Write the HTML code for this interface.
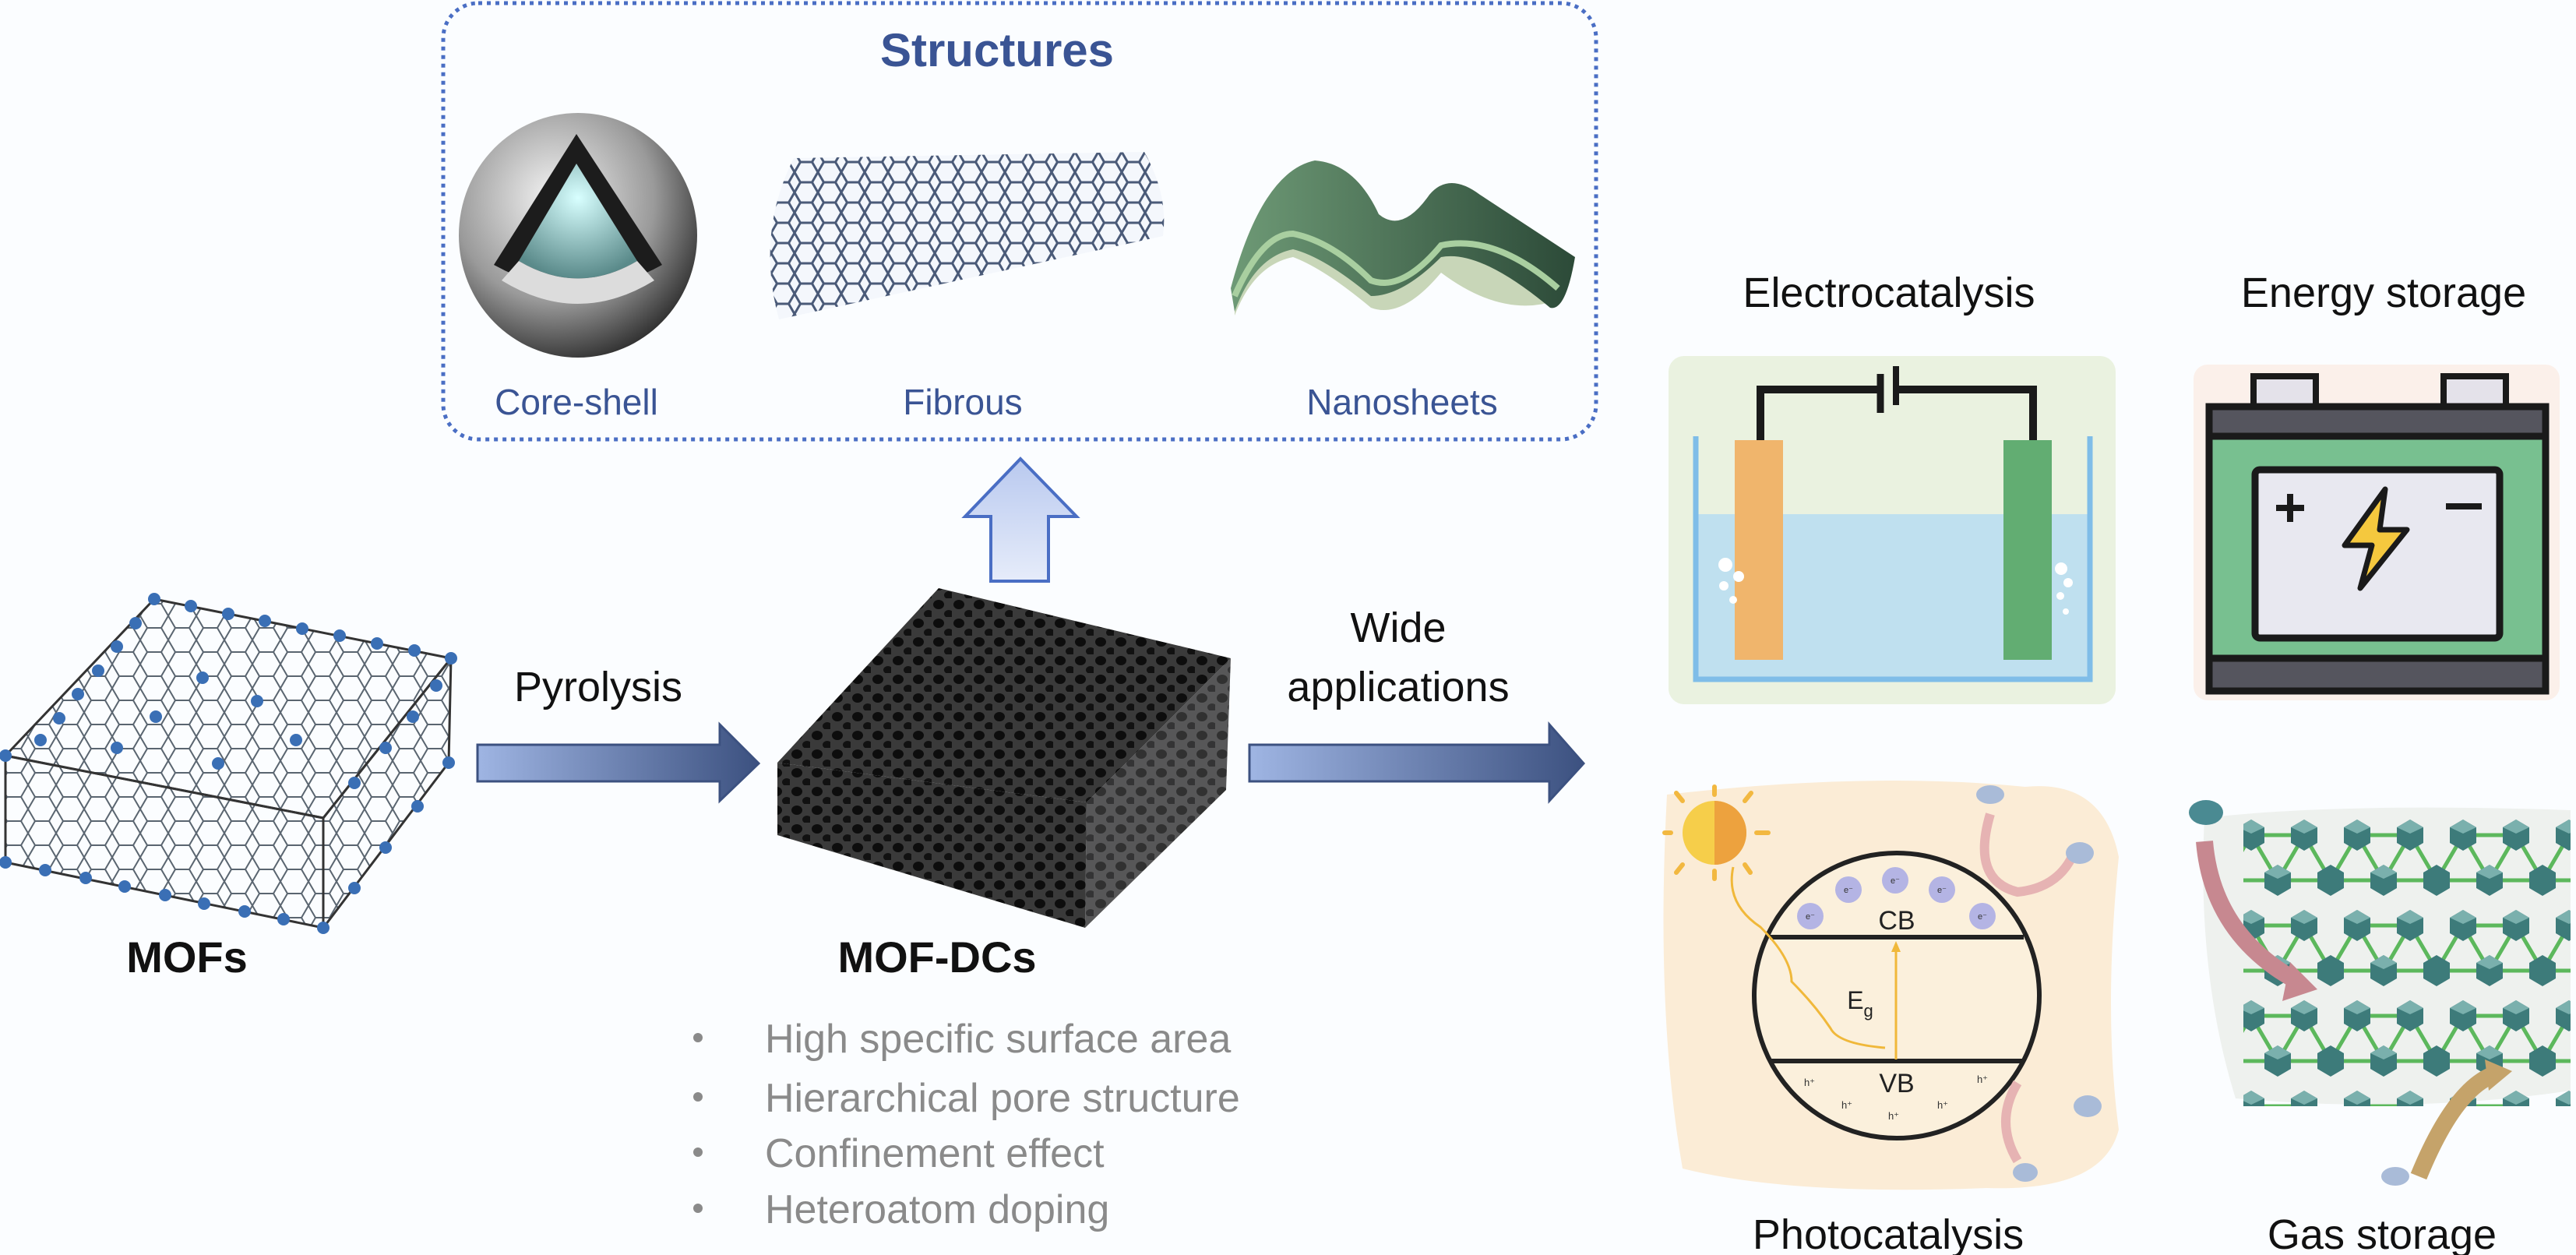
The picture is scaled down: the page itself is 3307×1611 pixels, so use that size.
<!DOCTYPE html>
<html><head><meta charset="utf-8"><style>
html,body{margin:0;padding:0;background:#fbfdff;}
svg{display:block}
text{font-family:"Liberation Sans",Arial,sans-serif}
</style></head><body>
<svg width="3307" height="1611" viewBox="0 0 3307 1611" xmlns="http://www.w3.org/2000/svg">
<defs>
<pattern id="hex" width="36" height="31" patternUnits="userSpaceOnUse">
<path d="M0 15.5 L9 0 L27 0 L36 15.5 L27 31 L9 31 Z" fill="none" stroke="#5a6570" stroke-width="2"/>
</pattern>
<pattern id="pores" width="26" height="24" patternUnits="userSpaceOnUse">
<rect width="26" height="24" fill="#3a3a3a"/>
<ellipse cx="9" cy="8" rx="7" ry="6" fill="#0d0d0d"/>
<ellipse cx="22" cy="20" rx="6" ry="5" fill="#111"/>
</pattern>
<linearGradient id="arr" x1="0" x2="1" y1="0" y2="0">
<stop offset="0" stop-color="#9fb5e3"/><stop offset="1" stop-color="#3c5180"/>
</linearGradient>
<linearGradient id="up" x1="0" x2="0" y1="0" y2="1">
<stop offset="0" stop-color="#b9c9ef"/><stop offset="1" stop-color="#e6ecfa"/>
</linearGradient>
<radialGradient id="shell" cx="0.4" cy="0.35" r="0.7">
<stop offset="0" stop-color="#f4f4f4"/><stop offset="0.6" stop-color="#9a9a9a"/><stop offset="1" stop-color="#2a2a2a"/>
</radialGradient>
<radialGradient id="core" cx="0.5" cy="0.3" r="0.7">
<stop offset="0" stop-color="#d8ffff"/><stop offset="1" stop-color="#5a8a8a"/>
</radialGradient>
<linearGradient id="sheet" x1="0" x2="1">
<stop offset="0" stop-color="#6e9a76"/><stop offset="1" stop-color="#2c4a38"/>
</linearGradient>
<pattern id="tube" width="30" height="26" patternUnits="userSpaceOnUse">
<path d="M0 13 L7.5 0 L22.5 0 L30 13 L22.5 26 L7.5 26 Z" fill="none" stroke="#4a5a78" stroke-width="3"/>
</pattern>
<pattern id="gas" width="136" height="116" patternUnits="userSpaceOnUse">
<path d="M34 28 L102 28 M34 28 L0 86 M102 28 L136 86 M34 28 L68 86 M102 28 L68 86 M0 86 L136 86" stroke="#5cb85c" stroke-width="5"/>
<polygon points="34,8 51,18 51,38 34,48 17,38 17,18" fill="#3d7b7a"/>
<polygon points="34,8 51,18 34,26 17,18" fill="#7ab0ad"/>
<polygon points="102,8 119,18 119,38 102,48 85,38 85,18" fill="#3d7b7a"/>
<polygon points="102,8 119,18 102,26 85,18" fill="#7ab0ad"/>
<polygon points="68,66 85,76 85,96 68,106 51,96 51,76" fill="#3d7b7a"/>
<polygon points="68,66 85,76 68,84 51,76" fill="#7ab0ad"/>
<polygon points="0,66 17,76 17,96 0,106 -17,96 -17,76" fill="#3d7b7a"/>
<polygon points="136,66 153,76 153,96 136,106 119,96 119,76" fill="#3d7b7a"/>
</pattern>
</defs>

<!-- Structures box -->
<rect x="569" y="4" width="1480" height="560" rx="45" fill="none" stroke="#4a6ec4" stroke-width="5" stroke-dasharray="5 6"/>
<text x="1280" y="85" font-size="60" font-weight="bold" fill="#3a5494" text-anchor="middle">Structures</text>
<text x="740" y="532" font-size="46" fill="#3a5494" text-anchor="middle">Core-shell</text>
<text x="1236" y="532" font-size="46" fill="#3a5494" text-anchor="middle">Fibrous</text>
<text x="1800" y="532" font-size="46" fill="#3a5494" text-anchor="middle">Nanosheets</text>

<!-- core shell -->
<ellipse cx="742" cy="302" rx="153" ry="157" fill="url(#shell)"/>
<path d="M740 172 L850 340 Q742 400 634 340 Z" fill="#1c1c1c"/>
<path d="M740 210 L818 335 Q742 380 666 335 Z" fill="url(#core)"/>
<path d="M666 335 Q742 380 818 335 L840 360 Q742 420 644 360 Z" fill="#dcdcdc"/>

<!-- tube -->
<path d="M1019 203 L1469 195 Q1500 250 1493 303 L1000 410 Q970 300 1019 203 Z" fill="#f4f7fc"/>
<path d="M1019 203 L1469 195 Q1500 250 1493 303 L1000 410 Q970 300 1019 203 Z" fill="url(#tube)"/>

<!-- nanosheet -->
<path d="M1585 385 Q1620 300 1660 300 Q1710 310 1760 360 Q1800 390 1850 325 Q1920 310 2000 385 Q1930 410 1850 350 Q1800 410 1760 395 Q1700 345 1660 330 Q1610 340 1585 405 Z" fill="#c8d6b8"/>
<path d="M1580 370 Q1620 220 1688 206 Q1740 210 1770 275 Q1800 300 1835 250 Q1860 220 1900 250 L2022 330 Q2010 400 1990 395 Q1900 320 1850 330 Q1800 380 1760 380 Q1700 330 1660 320 Q1610 330 1585 400 Z" fill="url(#sheet)"/>
<path d="M1585 380 Q1620 300 1660 300 Q1710 310 1760 360 Q1800 375 1850 315 Q1920 300 2000 370" fill="none" stroke="#a9cfa0" stroke-width="8"/>

<!-- up arrow -->
<polygon points="1310,589 1382,663 1346,663 1346,746 1272,746 1272,663 1239,663" fill="url(#up)" stroke="#4a6ec4" stroke-width="4"/>

<!-- MOFs -->
<polygon points="198,769 579,845 415,1050 7,970" fill="url(#hex)" stroke="#333" stroke-width="3"/>
<polygon points="7,970 415,1050 415,1191 7,1107" fill="url(#hex)" stroke="#333" stroke-width="3"/>
<polygon points="415,1050 579,845 576,979 415,1191" fill="url(#hex)" stroke="#333" stroke-width="3"/>
<g fill="#3a6fb5">
<circle cx="198" cy="769" r="8"/><circle cx="245" cy="778" r="8"/><circle cx="293" cy="788" r="8"/><circle cx="340" cy="797" r="8"/><circle cx="388" cy="807" r="8"/><circle cx="436" cy="816" r="8"/><circle cx="484" cy="826" r="8"/><circle cx="532" cy="835" r="8"/><circle cx="579" cy="845" r="8"/>
<circle cx="174" cy="800" r="8"/><circle cx="150" cy="830" r="8"/><circle cx="126" cy="861" r="8"/><circle cx="100" cy="891" r="8"/><circle cx="76" cy="922" r="8"/><circle cx="52" cy="950" r="8"/><circle cx="7" cy="970" r="8"/>
<circle cx="7" cy="1107" r="8"/><circle cx="58" cy="1117" r="8"/><circle cx="110" cy="1127" r="8"/><circle cx="160" cy="1138" r="8"/><circle cx="212" cy="1149" r="8"/><circle cx="262" cy="1160" r="8"/><circle cx="314" cy="1170" r="8"/><circle cx="364" cy="1180" r="8"/><circle cx="415" cy="1191" r="8"/>
<circle cx="455" cy="1140" r="8"/><circle cx="495" cy="1088" r="8"/><circle cx="536" cy="1035" r="8"/><circle cx="576" cy="979" r="8"/>
<circle cx="560" cy="880" r="8"/><circle cx="530" cy="920" r="8"/><circle cx="495" cy="960" r="8"/><circle cx="455" cy="1005" r="8"/>
<circle cx="260" cy="870" r="8"/><circle cx="330" cy="900" r="8"/><circle cx="200" cy="920" r="8"/><circle cx="380" cy="950" r="8"/><circle cx="280" cy="980" r="8"/><circle cx="150" cy="960" r="8"/>
</g>
<text x="240" y="1248" font-size="56" font-weight="bold" fill="#111" text-anchor="middle">MOFs</text>

<!-- Pyrolysis arrow -->
<text x="768" y="900" font-size="54" fill="#111" text-anchor="middle">Pyrolysis</text>
<polygon points="613,956 924,956 924,930 974,980 924,1028 924,1003 613,1003" fill="url(#arr)" stroke="#3c5180" stroke-width="3"/>

<!-- MOF-DC block -->
<polygon points="1205,755 1580,845 1395,1030 998,979" fill="url(#pores)"/>
<polygon points="998,979 1395,1030 1393,1191 998,1072" fill="url(#pores)"/>
<polygon points="1395,1030 1580,845 1574,1014 1393,1191" fill="url(#pores)" opacity="0.85"/>
<text x="1203" y="1248" font-size="56" font-weight="bold" fill="#111" text-anchor="middle">MOF-DCs</text>

<!-- bullets -->
<g fill="#8a8a8a" font-size="52">
<circle cx="896" cy="1332" r="6"/><circle cx="896" cy="1408" r="6"/><circle cx="896" cy="1479" r="6"/><circle cx="896" cy="1551" r="6"/>
<text x="982" y="1351">High specific surface area</text>
<text x="982" y="1427">Hierarchical pore structure</text>
<text x="982" y="1498">Confinement effect</text>
<text x="982" y="1570">Heteroatom doping</text>
</g>

<!-- Wide applications arrow -->
<text x="1795" y="824" font-size="54" fill="#111" text-anchor="middle">Wide</text>
<text x="1795" y="900" font-size="54" fill="#111" text-anchor="middle">applications</text>
<polygon points="1604,956 1989,956 1989,930 2033,980 1989,1028 1989,1003 1604,1003" fill="url(#arr)" stroke="#3c5180" stroke-width="3"/>

<!-- Titles right -->
<g font-size="54" fill="#111" text-anchor="middle">
<text x="2425" y="394">Electrocatalysis</text>
<text x="3060" y="394">Energy storage</text>
<text x="2424" y="1603">Photocatalysis</text>
<text x="3058" y="1603">Gas storage</text>
</g>

<!-- Electrocatalysis -->
<rect x="2142" y="457" width="574" height="447" rx="20" fill="#eaf2e0"/>
<rect x="2175" y="660" width="510" height="210" fill="#bfe0ef"/>
<path d="M2177 560 L2177 872 L2683 872 L2683 560" fill="none" stroke="#7fbde8" stroke-width="7"/>
<path d="M2260 565 L2260 500 L2412 500 M2436 500 L2610 500 L2610 565" fill="none" stroke="#1a1a1a" stroke-width="10"/>
<line x1="2414" y1="480" x2="2414" y2="530" stroke="#1a1a1a" stroke-width="9"/>
<line x1="2434" y1="470" x2="2434" y2="520" stroke="#1a1a1a" stroke-width="8"/>
<rect x="2227" y="565" width="62" height="282" fill="#f0b56c"/>
<rect x="2572" y="565" width="62" height="282" fill="#62ad72"/>
<g fill="#fff"><circle cx="2215" cy="725" r="9"/><circle cx="2232" cy="740" r="7"/><circle cx="2213" cy="752" r="6"/><circle cx="2225" cy="770" r="5"/><circle cx="2646" cy="730" r="8"/><circle cx="2655" cy="748" r="6"/><circle cx="2645" cy="765" r="5"/><circle cx="2652" cy="785" r="4"/></g>

<!-- Battery -->
<rect x="2816" y="468" width="470" height="431" rx="18" fill="#fbf0ea"/>
<rect x="2893" y="483" width="80" height="45" fill="#e4e2ea" stroke="#1a1a1a" stroke-width="8"/>
<rect x="3137" y="483" width="80" height="45" fill="#e4e2ea" stroke="#1a1a1a" stroke-width="8"/>
<rect x="2836" y="522" width="432" height="365" rx="8" fill="#78c090" stroke="#1a1a1a" stroke-width="9"/>
<rect x="2836" y="522" width="432" height="38" fill="#55555e" stroke="#1a1a1a" stroke-width="9"/>
<rect x="2836" y="845" width="432" height="42" fill="#55555e" stroke="#1a1a1a" stroke-width="9"/>
<rect x="2895" y="603" width="314" height="216" rx="6" fill="#e8e8f0" stroke="#1a1a1a" stroke-width="9"/>
<path d="M2922 652 h36 M2940 634 v36" stroke="#1a1a1a" stroke-width="8"/>
<path d="M3140 650 h46" stroke="#1a1a1a" stroke-width="8"/>
<path d="M3062 628 L3010 700 L3045 700 L3030 755 L3090 680 L3055 680 Z" fill="#f5c83e" stroke="#1a1a1a" stroke-width="7" stroke-linejoin="round"/>

<!-- Photocatalysis -->
<path d="M2140 1020 Q2400 990 2600 1010 Q2700 1000 2720 1100 Q2700 1300 2720 1450 Q2700 1530 2550 1525 Q2300 1535 2160 1500 Q2125 1300 2140 1020 Z" fill="#fbecd6"/>
<circle cx="2201" cy="1069" r="41" fill="#f6ce4a"/>
<path d="M2201 1028 A41 41 0 0 1 2201 1110 Z" fill="#eda23e"/>
<g stroke="#f2b840" stroke-width="6" stroke-linecap="round">
<line x1="2201" y1="1010" x2="2201" y2="1020"/><line x1="2201" y1="1118" x2="2201" y2="1128"/><line x1="2255" y1="1069" x2="2270" y2="1069"/><line x1="2137" y1="1069" x2="2145" y2="1069"/><line x1="2240" y1="1110" x2="2247" y2="1120"/><line x1="2160" y1="1110" x2="2152" y2="1120"/><line x1="2240" y1="1028" x2="2248" y2="1018"/><line x1="2160" y1="1028" x2="2152" y2="1018"/>
</g>
<ellipse cx="2435" cy="1278" rx="183" ry="183" fill="#fbf0dc" stroke="#222" stroke-width="6"/>
<line x1="2272" y1="1203" x2="2598" y2="1203" stroke="#222" stroke-width="6"/>
<line x1="2272" y1="1362" x2="2598" y2="1362" stroke="#222" stroke-width="6"/>
<path d="M2225 1113 Q2215 1160 2260 1190 Q2300 1230 2300 1260 Q2330 1290 2350 1320 Q2360 1340 2420 1345" fill="none" stroke="#f0b83a" stroke-width="3"/>
<line x1="2434" y1="1360" x2="2434" y2="1215" stroke="#f0b83a" stroke-width="3"/>
<polygon points="2434,1208 2428,1222 2440,1222" fill="#f0b83a"/>
<g fill="#b4b4e4"><circle cx="2324" cy="1176" r="17"/><circle cx="2373" cy="1142" r="17"/><circle cx="2433" cy="1130" r="17"/><circle cx="2493" cy="1142" r="17"/><circle cx="2545" cy="1176" r="17"/></g>
<g font-size="11" fill="#333" text-anchor="middle"><text x="2324" y="1180">e⁻</text><text x="2373" y="1146">e⁻</text><text x="2433" y="1134">e⁻</text><text x="2493" y="1146">e⁻</text><text x="2545" y="1180">e⁻</text></g>
<text x="2435" y="1193" font-size="34" fill="#222" text-anchor="middle">CB</text>
<text x="2435" y="1402" font-size="34" fill="#222" text-anchor="middle">VB</text>
<text x="2388" y="1295" font-size="32" fill="#222" text-anchor="middle">E<tspan font-size="22" dy="10">g</tspan></text>
<g font-size="13" fill="#333" text-anchor="middle"><text x="2323" y="1394">h⁺</text><text x="2371" y="1423">h⁺</text><text x="2431" y="1437">h⁺</text><text x="2494" y="1423">h⁺</text><text x="2545" y="1390">h⁺</text></g>
<path d="M2555 1045 Q2530 1130 2590 1145 Q2640 1140 2660 1100" fill="none" stroke="#e6b3b3" stroke-width="12"/>
<path d="M2590 1390 Q2560 1440 2590 1490" fill="none" stroke="#e6b3b3" stroke-width="12"/>
<g fill="#a9bbd8"><ellipse cx="2555" cy="1020" rx="18" ry="12"/><ellipse cx="2670" cy="1095" rx="18" ry="14"/><ellipse cx="2680" cy="1420" rx="18" ry="14"/><ellipse cx="2600" cy="1505" rx="16" ry="12"/></g>

<!-- Gas storage -->
<path d="M2830 1050 Q3000 1030 3300 1040 L3300 1400 Q3100 1430 2870 1410 Q2820 1250 2830 1050 Z" fill="#eef1ee"/>
<rect x="2880" y="1040" width="420" height="380" fill="url(#gas)"/>
<path d="M2830 1080 Q2840 1200 2950 1260" fill="none" stroke="#c78890" stroke-width="22"/>
<polygon points="2940,1235 2975,1270 2930,1285" fill="#c78890"/>
<path d="M3105 1510 Q3150 1400 3200 1380" fill="none" stroke="#c5a36a" stroke-width="22"/>
<polygon points="3190,1360 3225,1375 3195,1400" fill="#c5a36a"/>
<ellipse cx="2832" cy="1043" rx="22" ry="16" fill="#4a8a92"/>
<ellipse cx="3075" cy="1510" rx="18" ry="12" fill="#a9bbd8"/>
</svg>
</body></html>
